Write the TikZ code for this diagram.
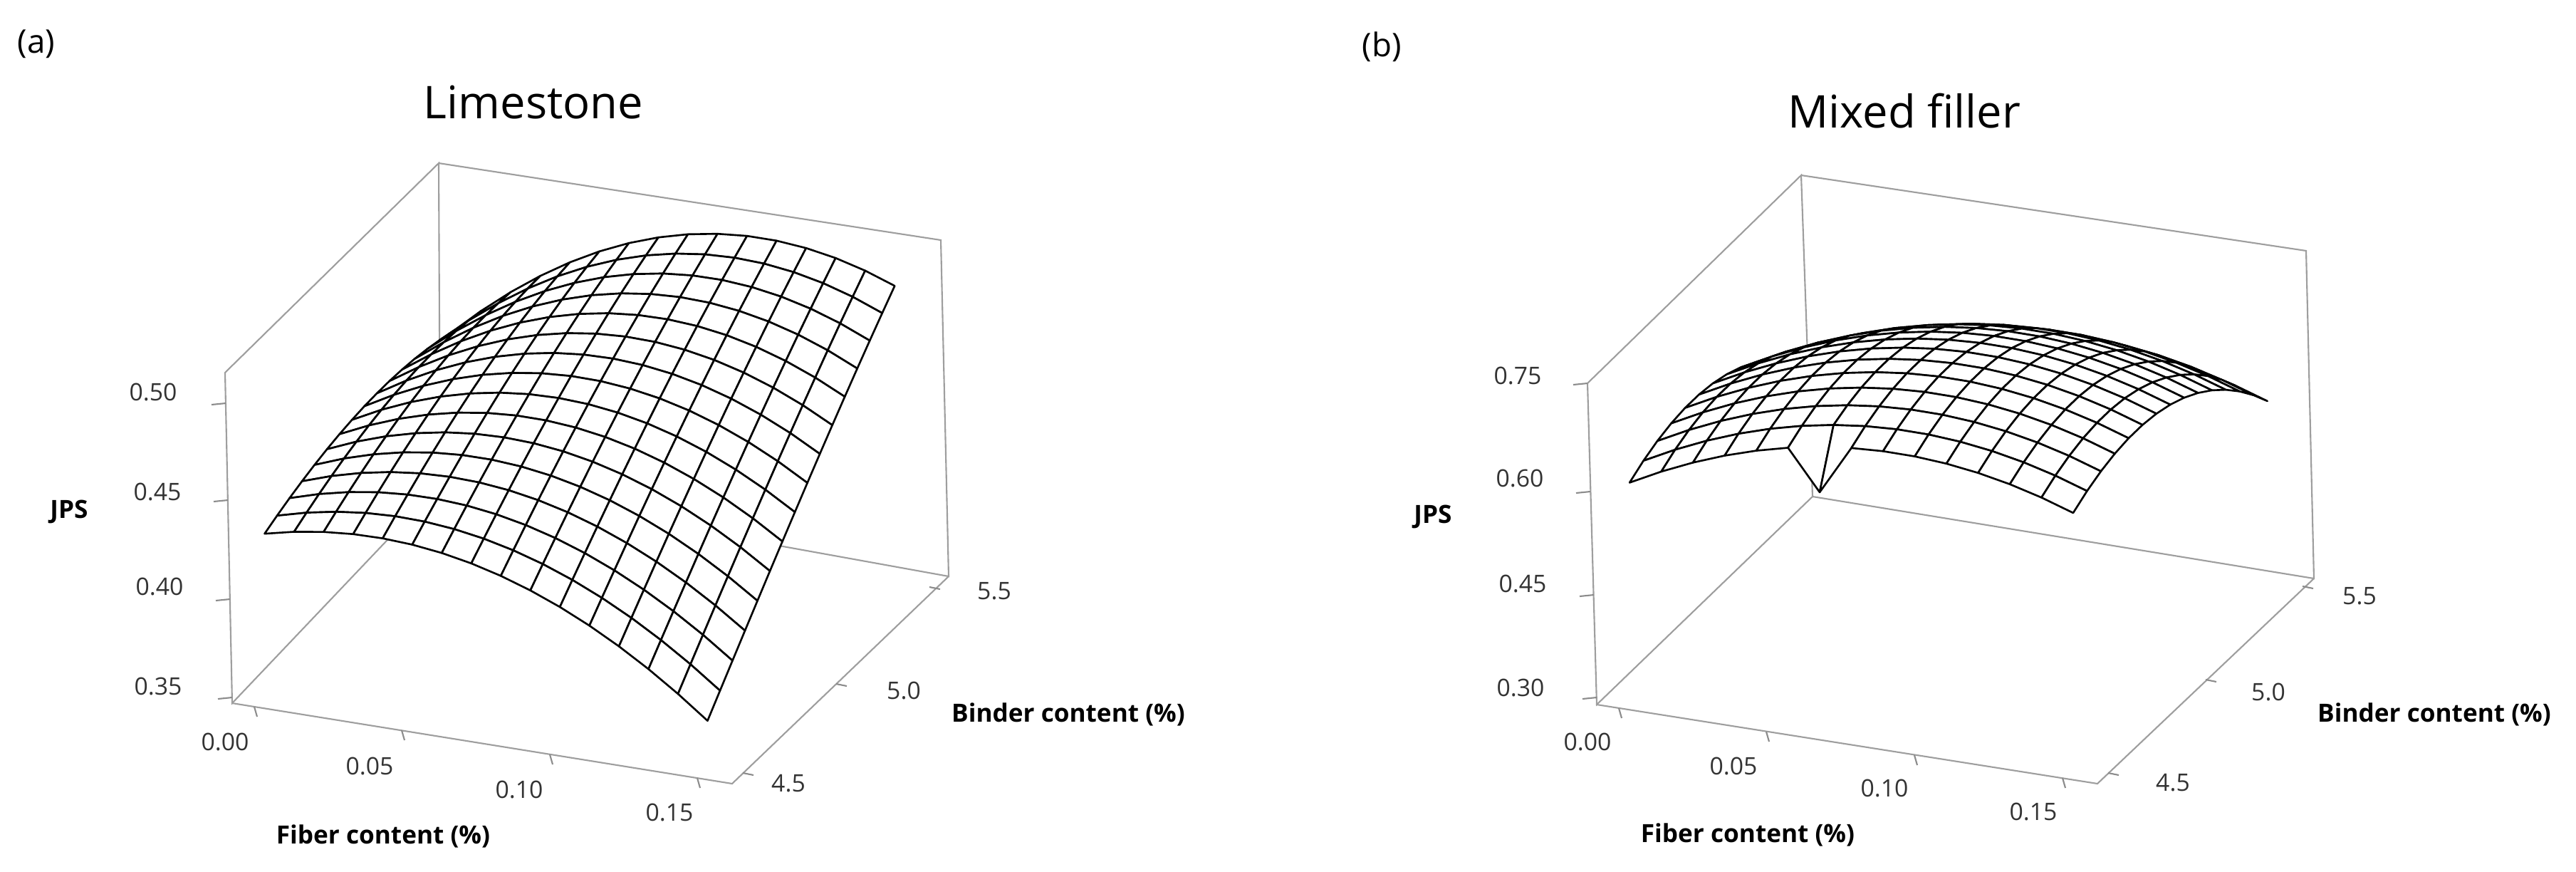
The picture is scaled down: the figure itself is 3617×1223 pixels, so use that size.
\documentclass[tikz,border=0pt]{standalone}
\usepackage{fontspec}
\setmainfont{Open Sans}
\begin{document}
\tikzset{
  box/.style={draw=black!38,line width=0.6pt},
  tk/.style={draw=black!45,line width=0.6pt},
  mesh/.style={draw=black,fill=white,line width=0.75pt,line join=round},
  num/.style={font=\fontsize{9.6}{11}\selectfont,text=black!80,inner sep=0pt},
  lab/.style={font=\bfseries\fontsize{10}{12}\selectfont,inner sep=0pt},
  ttl/.style={font=\fontsize{18}{21}\selectfont,inner sep=0pt},
  pan/.style={font=\fontsize{13}{15}\selectfont,inner sep=0pt}
}
\newcommand\ptA[2]{%
 \pgfmathsetmacro\uu{#1/15}\pgfmathsetmacro\vv{#2/15}%
 \pgfmathsetmacro\dd{\uu-0.25-0.45*\vv}%
 \pgfmathsetmacro\ff{0.437+0.0685*\vv-(0.118+0.032*\vv)*\dd*\dd}%
 \pgfmathsetmacro\uu{0.044+0.886*\uu}\pgfmathsetmacro\vv{0.05+0.9*\vv}%
 \pgfmathsetmacro\px{326+702*\uu+292*\vv}%
 \pgfmathsetmacro\py{987+113*\uu-307*\vv-(\ff-0.347)*2753}}
\newcommand\ptB[2]{%
 \pgfmathsetmacro\uu{#1/14}\pgfmathsetmacro\vv{#2/14}%
 \pgfmathsetmacro\ff{0.598+0.342*\uu-0.285*\uu*\uu+0.192*\vv-0.3*\vv*\vv}%
 \ifnum#1=6 \ifnum#2=0 \pgfmathsetmacro\ff{\ff-0.065}\fi\fi
 \pgfmathsetmacro\uu{0.044+0.886*\uu}\pgfmathsetmacro\vv{0.05+0.9*\vv}%
 \pgfmathsetmacro\px{2242+703*\uu+303*\vv}%
 \pgfmathsetmacro\py{989+111*\uu-292*\vv-(\ff-0.29)*980}}
\newcommand\quadA[2]{%
 \pgfmathtruncatemacro\ia{#1+1}\pgfmathtruncatemacro\ja{#2+1}%
 \ptA{#1}{#2}\coordinate (q1) at (\px,\py);
 \ptA{\ia}{#2}\coordinate (q2) at (\px,\py);
 \ptA{\ia}{\ja}\coordinate (q3) at (\px,\py);
 \ptA{#1}{\ja}\coordinate (q4) at (\px,\py);
 \filldraw[mesh] (q1)--(q2)--(q3)--(q4)--cycle;}
\newcommand\quadB[2]{%
 \pgfmathtruncatemacro\ia{#1+1}\pgfmathtruncatemacro\ja{#2+1}%
 \ptB{#1}{#2}\coordinate (q1) at (\px,\py);
 \ptB{\ia}{#2}\coordinate (q2) at (\px,\py);
 \ptB{\ia}{\ja}\coordinate (q3) at (\px,\py);
 \ptB{#1}{\ja}\coordinate (q4) at (\px,\py);
 \filldraw[mesh] (q1)--(q2)--(q3)--(q4)--cycle;}
\begin{tikzpicture}[x=0.01cm,y=-0.01cm]
\useasboundingbox[fill=white] (0,0) rectangle (3617,1223);
% ---------- panel a ----------
\node[pan] (pa) at (51,62) {(a)};
\node[ttl] (ta) at (749,144) {Limestone};
\coordinate (aO) at (326,987); \coordinate (aFT) at (316,523);
\coordinate (aBT) at (616,229); \coordinate (aBB) at (618,680);
\coordinate (aRT) at (1321,337); \coordinate (aRB) at (1332,809);
\coordinate (aFR) at (1028,1100);
\draw[box] (aO)--(aFT)--(aBT)--(aBB)--cycle;
\draw[box] (aBT)--(aRT)--(aRB)--(aBB);
\draw[box] (aO)--(aFR)--(aRB);
\foreach \x/\y in {317/566,320/702,323/841,326/979}{\draw[tk] (\x,\y)--++(-20,2);}
\foreach \x/\y in {357/992,564/1025,772/1059,979/1092}{\draw[tk] (\x,\y)--++(4,14);}
\foreach \x/\y in {1043/1085,1174/960,1305/824}{\draw[tk] (\x,\y)--++(15,3);}
\node[num] (a50) at (215,550) {0.50};
\node[num] (a45) at (221,690) {0.45};
\node[num] (a40) at (224,823) {0.40};
\node[num] (a35) at (222,963) {0.35};
\node[lab] (ajps) at (97,718) {JPS};
\node[num] (af0) at (316,1041) {0.00};
\node[num] (af1) at (519,1075) {0.05};
\node[num] (af2) at (729,1108) {0.10};
\node[num] (af3) at (940,1140) {0.15};
\node[lab] (afl) at (538,1174) {Fiber content (\%)};
\node[num] (ab1) at (1107,1100) {4.5};
\node[num] (ab2) at (1269,969) {5.0};
\node[num] (ab3) at (1396,830) {5.5};
\node[lab] (abl) at (1500,1003) {Binder content (\%)};
\foreach \k in {0,...,28}{\foreach \i in {0,...,14}{%
  \pgfmathtruncatemacro\j{14-(\k-\i)}%
  \ifnum\j<0 \else\ifnum\j>14 \else \quadA{\i}{\j}\fi\fi}}
% ---------- panel b ----------
\node[pan] (pb) at (1940,66) {(b)};
\node[ttl] (tb) at (2674,156) {Mixed filler};
\coordinate (bO) at (2242,989); \coordinate (bFT) at (2229,538);
\coordinate (bBT) at (2529,246); \coordinate (bBB) at (2545,697);
\coordinate (bRT) at (3238,352); \coordinate (bRB) at (3249,812);
\coordinate (bFR) at (2945,1100);
\draw[box] (bO)--(bFT)--(bBT)--(bBB)--cycle;
\draw[box] (bBT)--(bRT)--(bRB)--(bBB);
\draw[box] (bO)--(bFR)--(bRB);
\foreach \x/\y in {2229/538,2233/690,2238/835,2242/979}{\draw[tk] (\x,\y)--++(-20,2);}
\foreach \x/\y in {2273/994,2480/1027,2688/1060,2896/1092}{\draw[tk] (\x,\y)--++(4,14);}
\foreach \x/\y in {2960/1085,3097/954,3233/823}{\draw[tk] (\x,\y)--++(15,3);}
\node[num] (b75) at (2131,527) {0.75};
\node[num] (b60) at (2134,671) {0.60};
\node[num] (b45) at (2138,819) {0.45};
\node[num] (b30) at (2135,965) {0.30};
\node[lab] (bjps) at (2012,725) {JPS};
\node[num] (bf0) at (2229,1041) {0.00};
\node[num] (bf1) at (2434,1075) {0.05};
\node[num] (bf2) at (2646,1106) {0.10};
\node[num] (bf3) at (2855,1139) {0.15};
\node[lab] (bfl) at (2454,1172) {Fiber content (\%)};
\node[num] (bb1) at (3051,1099) {4.5};
\node[num] (bb2) at (3185,971) {5.0};
\node[num] (bb3) at (3313,837) {5.5};
\node[lab] (bbl) at (3418,1003) {Binder content (\%)};
\foreach \k in {0,...,26}{\foreach \i in {0,...,13}{%
  \pgfmathtruncatemacro\j{13-(\k-\i)}%
  \ifnum\j<0 \else\ifnum\j>13 \else \quadB{\i}{\j}\fi\fi}}
\end{tikzpicture}
\end{document}
